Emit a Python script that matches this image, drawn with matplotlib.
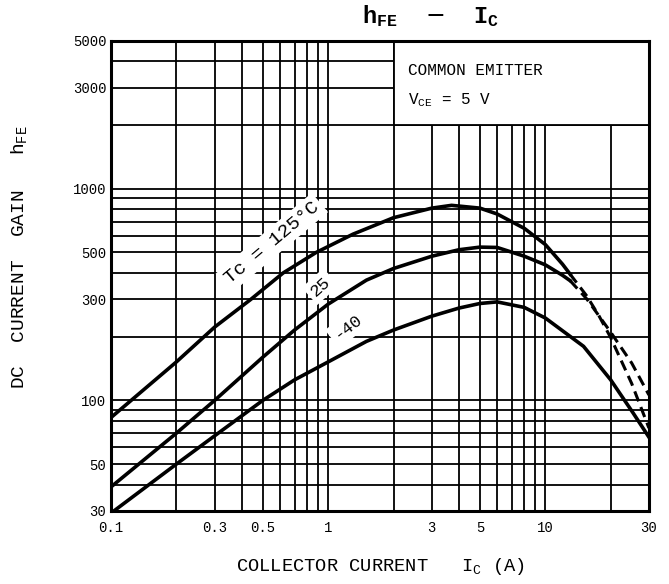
import matplotlib
matplotlib.use("Agg")
import matplotlib.pyplot as plt
from matplotlib.ticker import FixedLocator, FixedFormatter, NullFormatter
from matplotlib.patches import Rectangle

plt.rcParams['font.family'] = ['Liberation Mono', 'DejaVu Sans']

# ---- data ----
ic_125 = [0.1, 0.2, 0.3, 0.44, 0.62, 0.88, 1.3, 2.0, 3.0, 3.7, 5.0, 6.0, 8.0, 10.0, 12.0, 13.0]
hfe_125 = [83, 152, 222, 300, 400, 500, 610, 730, 810, 835, 810, 760, 650, 545, 440, 395]
ic_125_dash = [13.0, 15.5, 17.7, 20.0, 25.0, 30.0]
hfe_125_dash = [395, 312, 250, 198, 120, 74]

ic_25 = [0.1, 0.2, 0.3, 0.5, 0.7, 1.0, 1.5, 2.0, 3.0, 4.0, 5.0, 6.0, 8.0, 10.0, 12.0, 13.0]
hfe_25 = [39, 70, 100, 160, 215, 285, 370, 420, 480, 515, 530, 528, 480, 437, 390, 368]
ic_25_dash = [13.0, 15.5, 17.7, 20.0, 25.0, 30.0]
hfe_25_dash = [368, 302, 250, 210, 150, 106]

ic_m40 = [0.103, 0.2, 0.3, 0.5, 0.7, 1.0, 1.5, 2.0, 3.0, 4.0, 5.0, 6.0, 8.0, 10.0, 15.0, 20.0, 25.4, 30.0]
hfe_m40 = [30, 50, 68, 100, 125, 152, 190, 215, 250, 273, 287, 292, 275, 245, 180, 125, 87, 67]

x_ticks = [0.1, 0.3, 0.5, 1, 3, 5, 10, 30]
x_labels = ["0.1", "0.3", "0.5", "1", "3", "5", "10", "30"]
y_ticks = [30, 50, 100, 300, 500, 1000, 3000, 5000]
y_labels = ["30", "50", "100", "300", "500", "1000", "3000", "5000"]

x_grid = [m * d for d in (0.1, 1, 10) for m in range(1, 10) if 0.1 <= m * d <= 30]
y_grid = [m * d for d in (10, 100, 1000) for m in range(1, 10) if 30 <= m * d <= 5000]

# ---- figure ----
fig = plt.figure(figsize=(6.69, 5.84), dpi=100)
ax = fig.add_axes([0.166, 0.125, 0.804, 0.805])
ax.set_xscale("log")
ax.set_yscale("log")
ax.set_xlim(0.1, 30)
ax.set_ylim(30, 5000)

ax.xaxis.set_major_locator(FixedLocator(x_ticks))
ax.xaxis.set_major_formatter(FixedFormatter(x_labels))
ax.xaxis.set_minor_locator(FixedLocator(x_grid))
ax.xaxis.set_minor_formatter(NullFormatter())
ax.yaxis.set_major_locator(FixedLocator(y_ticks))
ax.yaxis.set_major_formatter(FixedFormatter(y_labels))
ax.yaxis.set_minor_locator(FixedLocator(y_grid))
ax.yaxis.set_minor_formatter(NullFormatter())
ax.tick_params(which="both", length=0, labelsize=10)
ax.tick_params(axis="x", pad=7)

ax.set_axisbelow(True)
ax.grid(which="both", color="black", linewidth=1.3)
for s in ax.spines.values():
    s.set_linewidth(2.2)

# blank box top-right with the test conditions
ax.add_patch(Rectangle((2, 2000), 28, 3000, facecolor="white",
                       edgecolor="black", linewidth=1.3, zorder=1))
ax.text(0.552, 0.938, "COMMON EMITTER", transform=ax.transAxes,
        fontsize=11.5, va="center", zorder=3)
ax.text(0.552, 0.874, r"V$_{\mathregular{CE}}$ = 5 V", transform=ax.transAxes,
        fontsize=11.5, va="center", zorder=3)

# curves
dash = (0, (3.5, 2))
ax.plot(ic_125, hfe_125, color="black", lw=2.6, zorder=4)
ax.plot(ic_125_dash, hfe_125_dash, color="black", lw=2.2, ls=dash, zorder=4)
ax.plot(ic_25, hfe_25, color="black", lw=2.6, zorder=4)
ax.plot(ic_25_dash, hfe_25_dash, color="black", lw=2.2, ls=dash, zorder=4)
ax.plot(ic_m40, hfe_m40, color="black", lw=2.6, zorder=4)

# curve labels, white backing cuts the grid like in the datasheet
box = dict(facecolor="white", edgecolor="none", pad=3)
ax.text(0.55, 555, "Tc = 125°C", rotation=40, fontsize=14,
        ha="center", va="center", bbox=box, zorder=3)
ax.text(0.92, 345, "25", rotation=42, fontsize=12.5,
        ha="center", va="center", bbox=box, zorder=3)
ax.text(1.23, 222, "-40", rotation=38, fontsize=12.5,
        ha="center", va="center", bbox=box, zorder=3)

fig.text(0.643, 0.972, r"$\mathregular{h_{FE}}$  $-$  $\mathregular{I_C}$", fontsize=17,
         fontweight="bold", ha="center", va="center")
ax.set_xlabel(r"COLLECTOR CURRENT   I$_{\mathregular{C}}$ (A)", fontsize=13.5)
ax.xaxis.set_label_coords(0.5, -0.095)
ax.set_ylabel(r"DC  CURRENT  GAIN   h$_{\mathregular{FE}}$", fontsize=14)
ax.yaxis.set_label_coords(-0.15, 0.54)

fig.savefig("out.png", dpi=100)
